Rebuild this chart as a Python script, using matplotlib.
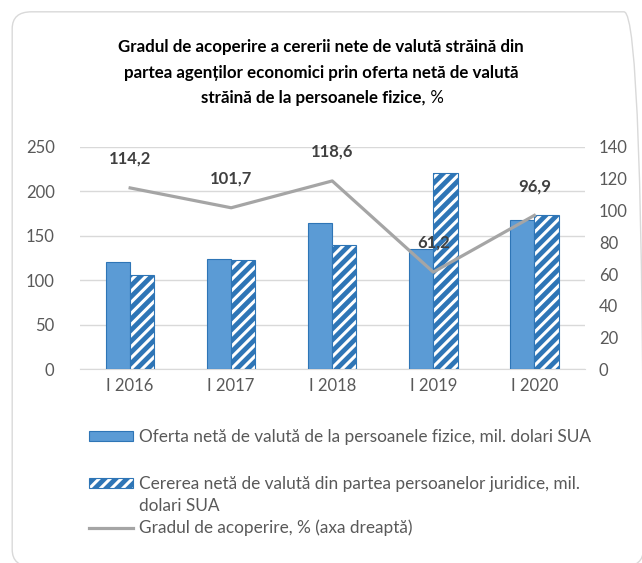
import matplotlib
matplotlib.use("Agg")
import matplotlib.pyplot as plt
import numpy as np
from matplotlib.patches import Patch, FancyBboxPatch
from matplotlib.lines import Line2D
from matplotlib.legend_handler import HandlerTuple

plt.rcParams['font.family'] = ['Lato', 'DejaVu Sans']
plt.rcParams['hatch.linewidth'] = 2.2

# --- Data ---
categories = ["I 2016", "I 2017", "I 2018", "I 2019", "I 2020"]
oferta = [121.2, 124.2, 164.8, 135.1, 168.2]      # mil. dolari SUA
cererea = [106.2, 122.4, 139.3, 221.1, 173.4]     # mil. dolari SUA
gradul = [114.2, 101.7, 118.6, 61.2, 96.9]        # %
gradul_labels = ["114,2", "101,7", "118,6", "61,2", "96,9"]

left_ticks = [0, 50, 100, 150, 200, 250]
right_ticks = [0, 20, 40, 60, 80, 100, 120, 140]

title_lines = ["Gradul de acoperire a cererii nete de valută străină din",
               "partea agenților economici prin oferta netă de valută",
               "străină de la persoanele fizice,"]
lbl_oferta = "Oferta netă de valută de la persoanele fizice, mil. dolari SUA"
lbl_cererea = ["Cererea netă de valută din partea persoanelor juridice, mil.", "dolari SUA"]
lbl_gradul = "Gradul de acoperire, % (axa dreaptă)"

# --- Styles ---
BLUE = "#5B9BD5"
DARK_BLUE = "#2E75B6"
GREY_LINE = "#A5A5A5"
TXT = "#595959"
GRID = "#D9D9D9"
HATCH = "///"

fig = plt.figure(figsize=(6.42, 5.63), dpi=100)

# rounded chart border (runs off the right/bottom edge like the original)
border = FancyBboxPatch((0.019, -0.006), 0.983, 0.985, boxstyle="round,pad=0,rounding_size=0.03",
                        transform=fig.transFigure, facecolor="none", edgecolor=GRID,
                        linewidth=1.0, zorder=-10)
fig.patches.append(border)

ax = fig.add_axes([0.124, 0.344, 0.787, 0.395])
ax2 = ax.twinx()

x = np.arange(len(categories))
w = 0.24

ax.bar(x - w / 2, oferta, w, color=BLUE, edgecolor=DARK_BLUE, linewidth=0.8, zorder=3)
ax.bar(x + w / 2, cererea, w, color=DARK_BLUE, edgecolor=DARK_BLUE, linewidth=0, zorder=3)
ax.bar(x + w / 2, cererea, w, color="none", edgecolor="white", hatch=HATCH, linewidth=0, zorder=4)
ax.bar(x + w / 2, cererea, w, color="none", edgecolor=DARK_BLUE, linewidth=0.8, zorder=5)

ax.set_ylim(0, 250)
ax.set_yticks(left_ticks)
ax.set_xlim(-0.5, len(categories) - 0.5)
ax.set_xticks(x)
ax.set_xticklabels(categories)
ax.yaxis.grid(True, color=GRID, linewidth=1.0, zorder=0)
ax.set_axisbelow(True)
for s in ["top", "right", "left"]:
    ax.spines[s].set_visible(False)
ax.spines["bottom"].set_color(GRID)
ax.tick_params(axis="both", length=0, labelsize=12, colors=TXT)
ax.tick_params(axis="x", pad=6)
ax.tick_params(axis="y", pad=18)

ax2.plot(x, gradul, color=GREY_LINE, linewidth=2.3, zorder=6)
ax2.set_ylim(0, 140)
ax2.set_yticks(right_ticks)
for s in ["top", "right", "left", "bottom"]:
    ax2.spines[s].set_visible(False)
ax2.tick_params(axis="y", length=0, labelsize=12, colors=TXT, pad=10)
ax.set_zorder(1)
ax2.set_zorder(2)
ax2.patch.set_visible(False)
ax.patch.set_visible(False)

for xi, v, t in zip(x, gradul, gradul_labels):
    ax2.annotate(t, (xi, v), xytext=(0, 21), textcoords="offset points",
                 ha="center", va="center", fontsize=12, fontweight="bold", color="#404040")

# title: three bold lines, trailing "%" in regular weight
title_y = [0.917, 0.871, 0.826]
for i, (line, ty) in enumerate(zip(title_lines, title_y)):
    xc = 0.5 if i < 2 else 0.488
    t = fig.text(xc, ty, line, ha="center", va="center", fontsize=12.2,
                 fontweight="bold", color="black")
t_pct = ax.annotate(" %", xy=(1, 0), xycoords=t, va="bottom", ha="left",
                    fontsize=12.2, color="black", annotation_clip=False)

# --- Legend ---
h_oferta = Patch(facecolor=BLUE, edgecolor=DARK_BLUE, linewidth=0.8)
h_cer = (Patch(facecolor=DARK_BLUE, edgecolor=DARK_BLUE, linewidth=0),
         Patch(facecolor="none", edgecolor="white", hatch=HATCH, linewidth=0),
         Patch(facecolor="none", edgecolor=DARK_BLUE, linewidth=0.8))
h_blank = Patch(facecolor="none", edgecolor="none")
h_gr = Line2D([], [], color=GREY_LINE, linewidth=2.3)

leg_kw = dict(frameon=False, fontsize=12.4, handlelength=2.6, handleheight=0.55,
              handletextpad=0.3, borderaxespad=0, borderpad=0,
              labelcolor=TXT, loc="upper left")
leg1 = fig.legend([h_oferta], [lbl_oferta], bbox_to_anchor=(0.138, 0.238), **leg_kw)
leg2 = fig.legend([h_cer, h_blank, h_gr], lbl_cererea + [lbl_gradul], labelspacing=0.33,
                  handler_map={tuple: HandlerTuple(ndivide=1)},
                  bbox_to_anchor=(0.138, 0.154), **leg_kw)

fig.savefig("out.png", dpi=100, facecolor="white")
